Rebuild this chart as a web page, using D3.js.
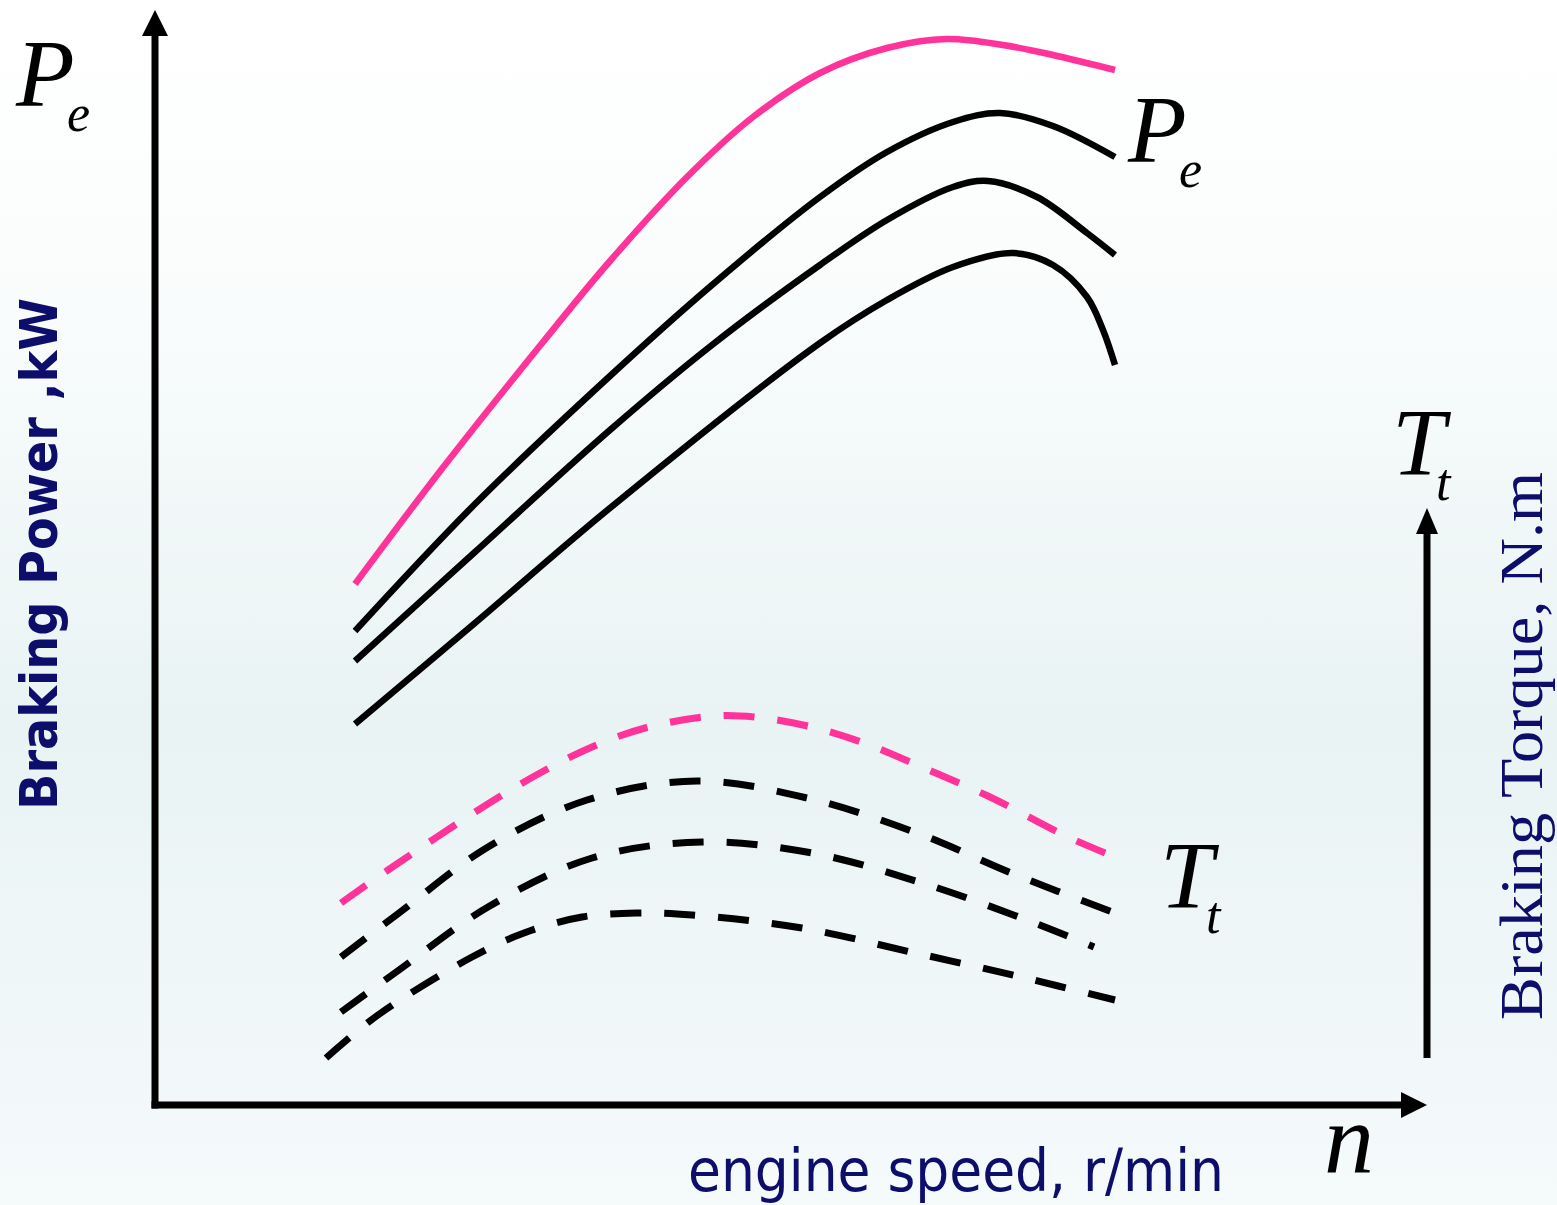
<!DOCTYPE html>
<html>
<head>
<meta charset="utf-8">
<script src="https://cdn.jsdelivr.net/npm/d3@7"></script>
<style>
  html, body { margin: 0; padding: 0; background: #fff; }
  svg { display: block; }
</style>
</head>
<body>
<svg id="chart" width="1557" height="1205"></svg>
<script>
// ---------- DATA ----------
// engine speed n, r/min
const powerSpeeds = [
  [1000, 1430, 1940, 2275, 2660, 2990, 3325, 3660, 3960, 4240, 4490, 4800],   // full load (pink)
  [1000, 1600, 2275, 2785, 3325, 3660, 3990, 4225, 4490, 4800],
  [1000, 1600, 2275, 2785, 3325, 3660, 3990, 4165, 4410, 4660, 4800],
  [1000, 1600, 2275, 3325, 3660, 3990, 4290, 4490, 4660, 4740, 4800]
];
// braking power Pe, kW
const powerValues = [
  [104.2, 127, 152.6, 168.8, 185.6, 197.6, 206.4, 211.4, 213.2, 212, 210, 207],
  [94.8, 120.2, 145.8, 164, 181.6, 190.6, 196.6, 198.4, 195.8, 189.6],
  [88.8, 110.6, 135, 152, 168, 177, 183.6, 184.8, 181.6, 174.4, 170],
  [76.2, 96.4, 119.4, 152.4, 161, 167.6, 170.4, 168, 161.6, 155, 148]
];
const torqueSpeeds = [
  [930, 1165, 1640, 1925, 2185, 2450, 2790, 3000, 3285, 3545, 3810, 4175, 4565, 4800],  // full load (pink)
  [930, 1220, 1665, 2160, 2710, 3260, 3810, 4305, 4800],
  [930, 1220, 1665, 2185, 2735, 3285, 3835, 4360, 4695],
  [855, 1115, 1585, 1845, 2135, 2410, 2685, 3235, 3780, 4330, 4800]
];
// braking torque Tt, N.m
const torqueValues = [
  [80.8, 94, 119.2, 132.8, 143.2, 150.8, 155.6, 155.2, 151.2, 144.8, 136, 123.2, 107.2, 99.2],
  [59.2, 76.8, 103.2, 122, 129.6, 122.8, 108.8, 92, 76.8],
  [37.2, 54, 79.2, 98.8, 105.2, 100.8, 88.8, 74, 63.2],
  [18.8, 36, 59.2, 68.8, 75.2, 76.8, 76, 70.8, 61.2, 51.2, 42]
];
const seriesColors = ["#ff3399", "#000000", "#000000", "#000000"];
const speedDomain = [0, 6360];
const powerDomain = [0, 219];
const torqueDomain = [0, 438];
const torqueAxisRange = [18.8, 238.8];

// ---------- LAYOUT ----------
const svg = d3.select("#chart");
const W = 1557, H = 1205;

const defs = svg.append("defs");
const grad = defs.append("linearGradient").attr("id", "bg")
  .attr("x1", 0).attr("y1", 0).attr("x2", 0).attr("y2", 1);
grad.append("stop").attr("offset", "0%").attr("stop-color", "#ffffff");
grad.append("stop").attr("offset", "22%").attr("stop-color", "#fbfdfd");
grad.append("stop").attr("offset", "60%").attr("stop-color", "#e9f3f4");
grad.append("stop").attr("offset", "100%").attr("stop-color", "#f5fafb");
svg.append("rect").attr("width", W).attr("height", H).attr("fill", "url(#bg)");

const x = d3.scaleLinear().domain(speedDomain).range([155, 1427]);
const yP = d3.scaleLinear().domain(powerDomain).range([1105, 10]);
const yT = d3.scaleLinear().domain(torqueDomain).range([1105, 10]);

// ---------- AXES ----------
const axisW = 7, headL = 26, headW = 26;
const axes = svg.append("g");
const x0 = x(0), y0 = yP(0);
// vertical power axis
const yTop = yP(powerDomain[1]);
axes.append("line").attr("x1", x0).attr("x2", x0).attr("y1", y0 + axisW / 2).attr("y2", yTop + headL - 2)
  .attr("stroke", "#000").attr("stroke-width", axisW);
axes.append("path").attr("d", `M${x0},${yTop} L${x0 - headW / 2},${yTop + headL} L${x0 + headW / 2},${yTop + headL} Z`).attr("fill", "#000");
// horizontal speed axis
const xEnd = x(speedDomain[1]);
axes.append("line").attr("x1", x0 - axisW / 2).attr("x2", xEnd - headL + 2).attr("y1", y0).attr("y2", y0)
  .attr("stroke", "#000").attr("stroke-width", axisW);
axes.append("path").attr("d", `M${xEnd},${y0} L${xEnd - headL},${y0 - headW / 2} L${xEnd - headL},${y0 + headW / 2} Z`).attr("fill", "#000");
// right torque axis
const tx = x(speedDomain[1]);
const tBot = yT(torqueAxisRange[0]), tTop = yT(torqueAxisRange[1]);
axes.append("line").attr("x1", tx).attr("x2", tx).attr("y1", tBot).attr("y2", tTop + headL - 2)
  .attr("stroke", "#000").attr("stroke-width", axisW);
axes.append("path").attr("d", `M${tx},${tTop} L${tx - headW / 2 + 2},${tTop + headL} L${tx + headW / 2 - 2},${tTop + headL} Z`).attr("fill", "#000");

// ---------- CURVES ----------
const linePower = d3.line().x(d => x(d[0])).y(d => yP(d[1])).curve(d3.curveCatmullRom.alpha(0.5));
const lineTorque = d3.line().x(d => x(d[0])).y(d => yT(d[1])).curve(d3.curveCatmullRom.alpha(0.5));

const curves = svg.append("g").attr("fill", "none").attr("stroke-linecap", "butt");
powerValues.forEach((vals, i) => {
  const pts = powerSpeeds[i].map((n, j) => [n, vals[j]]);
  curves.append("path").attr("d", linePower(pts))
    .attr("stroke", seriesColors[i]).attr("stroke-width", 6.5);
});
torqueValues.forEach((vals, i) => {
  const pts = torqueSpeeds[i].map((n, j) => [n, vals[j]]);
  curves.append("path").attr("d", lineTorque(pts))
    .attr("stroke", seriesColors[i]).attr("stroke-width", 7)
    .attr("stroke-dasharray", "31,23");
});

// ---------- TEXT ----------
const serif = "'Liberation Serif', 'Times New Roman', serif";
function sym(main, sub, mx, my, sx, sy, size) {
  const t = svg.append("text").attr("font-family", serif).attr("font-style", "italic").attr("fill", "#000");
  t.append("tspan").attr("x", mx).attr("y", my).attr("font-size", size || 96).text(main);
  if (sub) t.append("tspan").attr("x", sx).attr("y", sy).attr("font-size", 52).text(sub);
}
sym("P", "e", 16, 106, 67, 131);
sym("P", "e", 1128, 162, 1179, 187);
sym("T", "t", 1392, 475, 1436, 500);
sym("T", "t", 1160, 908, 1206, 933);
sym("n", null, 1324, 1172, 0, 0, 100);

const navy = "#0d0d6b";
svg.append("text")
  .attr("transform", "translate(57,554) rotate(-90)")
  .attr("text-anchor", "middle")
  .attr("font-family", "'DejaVu Sans', Verdana, sans-serif").attr("font-weight", "bold")
  .attr("font-size", 52).attr("fill", navy)
  .attr("textLength", 512).attr("lengthAdjust", "spacingAndGlyphs")
  .text("Braking Power ,kW");

svg.append("text")
  .attr("x", 688).attr("y", 1191)
  .attr("font-family", "'DejaVu Sans', Tahoma, sans-serif")
  .attr("font-size", 58).attr("fill", navy)
  .attr("textLength", 536).attr("lengthAdjust", "spacingAndGlyphs")
  .text("engine speed, r/min");

svg.append("text")
  .attr("transform", "translate(1542,746) rotate(-90)")
  .attr("text-anchor", "middle")
  .attr("font-family", serif)
  .attr("font-size", 62).attr("fill", navy)
  .attr("textLength", 548).attr("lengthAdjust", "spacingAndGlyphs")
  .text("Braking Torque, N.m");
</script>
</body>
</html>
